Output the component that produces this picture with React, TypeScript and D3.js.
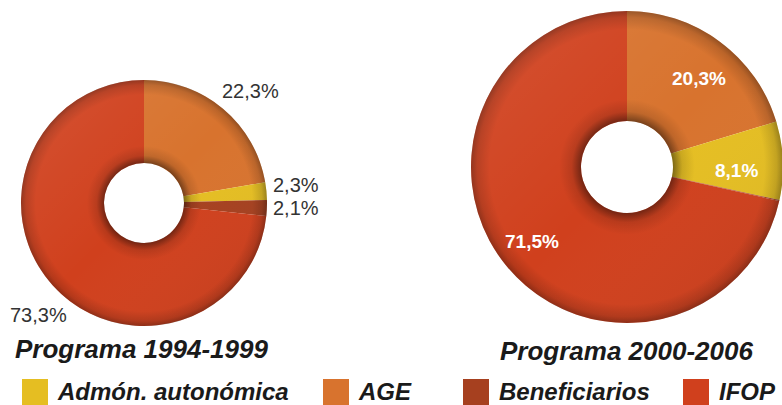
import * as d3 from 'd3';

// categories in pie order (clockwise from 12 o'clock)
const categories = ['AGE', 'Admón. autonómica', 'Beneficiarios', 'IFOP'];
const legendOrder = ['Admón. autonómica', 'AGE', 'Beneficiarios', 'IFOP'];
const colors = ['#d8732e', '#e5be22', '#a6401f', '#d0401d'];

const values1994 = [22.3, 2.3, 2.1, 73.3];
const values2000 = [20.3, 8.1, 0.1, 71.5];

const labels1994 = ['22,3%', '2,3%', '2,1%', '73,3%'];
const labels2000 = ['20,3%', '8,1%', '', '71,5%'];

const titles = ['Programa 1994-1999', 'Programa 2000-2006'];

const font = '"Liberation Sans", Arial, sans-serif';

function Donut({ id, cx, cy, outer, inner, values }) {
    const pie = d3.pie<number>().sort(null).value((d) => d);
    const arcs = pie(values);
    const arc = d3.arc<d3.PieArcDatum<number>>().innerRadius(inner).outerRadius(outer);
    const ring = d3.arc()({ innerRadius: inner, outerRadius: outer, startAngle: 0, endAngle: 2 * Math.PI }) || '';
    const f = inner / outer;
    return (
        <g transform={`translate(${cx}, ${cy})`}>
            <defs>
                <radialGradient id={`shade-${id}`} gradientUnits="userSpaceOnUse" cx={0} cy={0} r={outer}>
                    <stop offset={f} stopColor="#000" stopOpacity={0.45} />
                    <stop offset={f + 0.06} stopColor="#000" stopOpacity={0.12} />
                    <stop offset={f + 0.14} stopColor="#000" stopOpacity={0} />
                    <stop offset={0.88} stopColor="#000" stopOpacity={0} />
                    <stop offset={0.96} stopColor="#000" stopOpacity={0.14} />
                    <stop offset={1} stopColor="#000" stopOpacity={0.32} />
                </radialGradient>
                <linearGradient id={`light-${id}`} x1="0" y1="0" x2="1" y2="1">
                    <stop offset="0" stopColor="#fff" stopOpacity={0.1} />
                    <stop offset="0.5" stopColor="#fff" stopOpacity={0} />
                    <stop offset="1" stopColor="#000" stopOpacity={0.08} />
                </linearGradient>
            </defs>
            {arcs.map((a, i) => (
                <path key={i} d={arc(a) || ''} fill={colors[i]} />
            ))}
            <path d={ring} fill={`url(#shade-${id})`} />
            <path d={ring} fill={`url(#light-${id})`} />
        </g>
    );
}

export default function App() {
    const width = 782;
    const height = 405;
    const legendX = [22, 323, 463, 683];
    return (
        <svg width={width} height={height} style={{ position: 'absolute', left: 0, top: 0 }} fontFamily={font}>
            <rect width={width} height={height} fill="#fff" />
            <Donut id="a" cx={144} cy={203} outer={123} inner={40} values={values1994} />
            <Donut id="b" cx={627} cy={167} outer={156} inner={46} values={values2000} />

            {/* left labels, dark, outside */}
            <g fill="#333" fontSize={20}>
                <text x={222} y={98}>{labels1994[0]}</text>
                <text x={273} y={192}>{labels1994[1]}</text>
                <text x={273} y={215}>{labels1994[2]}</text>
                <text x={10} y={322}>{labels1994[3]}</text>
            </g>
            {/* right labels, white, inside */}
            <g fill="#fff" fontSize={19} fontWeight="bold">
                <text x={672} y={85}>{labels2000[0]}</text>
                <text x={715} y={177}>{labels2000[1]}</text>
                <text x={505} y={248}>{labels2000[3]}</text>
            </g>

            <g fill="#1a1a1a" fontSize={26} fontWeight="bold" fontStyle="italic">
                <text x={15} y={358}>{titles[0]}</text>
                <text x={500} y={360}>{titles[1]}</text>
            </g>

            {legendOrder.map((c, i) => (
                <g key={c}>
                    <rect x={legendX[i]} y={379} width={26} height={26} fill={colors[categories.indexOf(c)]} />
                    <text x={legendX[i] + 36} y={400} fontSize={24} fontWeight="bold" fontStyle="italic" fill="#1a1a1a">
                        {c}
                    </text>
                </g>
            ))}
        </svg>
    );
}
